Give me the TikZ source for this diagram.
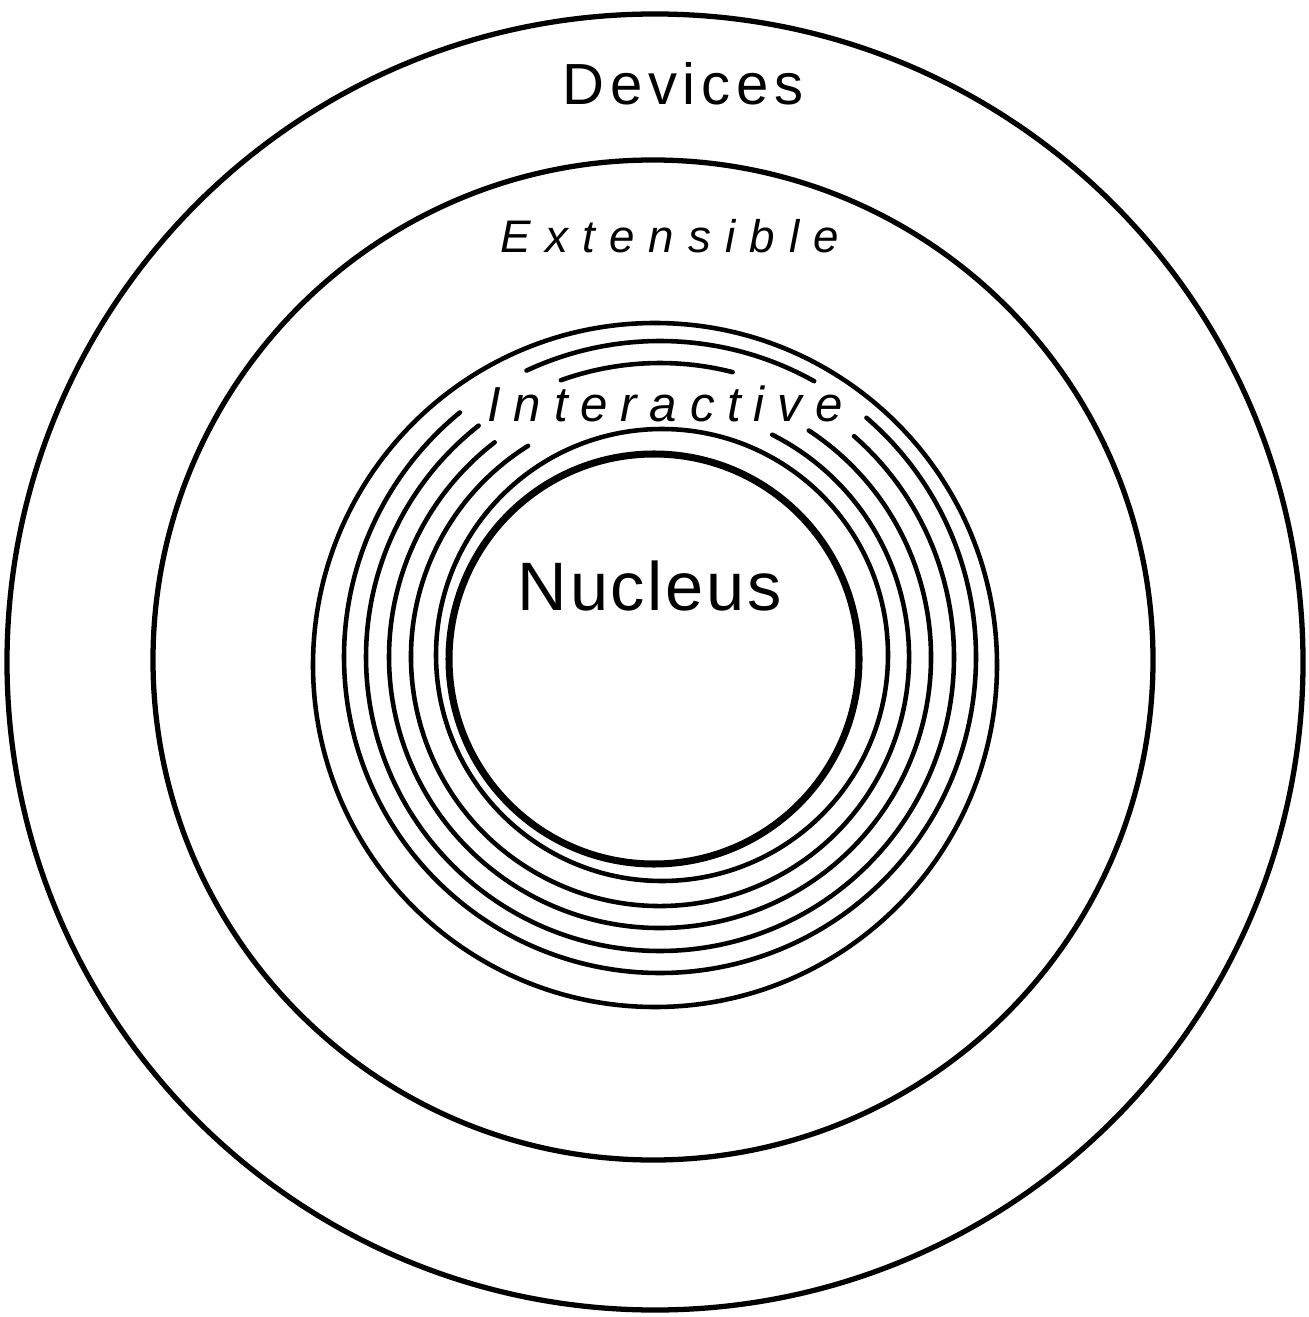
\documentclass[tikz,border=0pt]{standalone}
\usepackage{fontspec}
\newfontfamily\handfont{Liberation Sans}
\begin{document}
\begin{tikzpicture}[line cap=round, shell/.style={line width=1.5pt}, ring/.style={line width=1.3pt}, core/.style={line width=2pt}, word/.style={font=\handfont, inner sep=0pt, anchor=base}]
\useasboundingbox (0,0) rectangle (13.09,-13.17);
\coordinate (devicesc) at (6.55,-6.62);
\coordinate (extensiblec) at (6.53,-6.60);
\coordinate (interactivec) at (6.55,-6.65);
\coordinate (brokenc) at (6.60,-6.57);
\coordinate (innerc) at (6.62,-6.55);
\coordinate (nucleusc) at (6.54,-6.59);
\draw[shell] (devicesc) circle[radius=6.48];
\draw[shell] (extensiblec) circle[radius=5.00];
\draw[ring] (interactivec) circle[radius=3.42];
\draw[ring] ([shift={(49.2:3.16)}]brokenc) arc[start angle=49.2, end angle=-230.7, radius=3.16];
\draw[ring] ([shift={(60.8:3.16)}]brokenc) arc[start angle=60.8, end angle=115, radius=3.16];
\draw[ring] ([shift={(48.7:2.94)}]brokenc) arc[start angle=48.7, end angle=-231.9, radius=2.94];
\draw[ring] ([shift={(75.7:2.94)}]brokenc) arc[start angle=75.7, end angle=109.7, radius=2.94];
\draw[ring] ([shift={(56.7:2.71)}]brokenc) arc[start angle=56.7, end angle=-232.4, radius=2.71];
\draw[ring] ([shift={(63.2:2.49)}]brokenc) arc[start angle=63.2, end angle=-238, radius=2.49];
\draw[ring] (innerc) circle[radius=2.26];
\draw[core] (nucleusc) circle[radius=2.05];
\node[word, font=\handfont\fontsize{16.5}{17}\selectfont\addfontfeatures{LetterSpace=10}] (devices) at (6.83,-1.05) {Devices};
\node[word, font=\handfont\itshape\fontsize{13}{13}\selectfont\addfontfeatures{LetterSpace=31}] (extensible) at (6.70,-2.53) {Extensible};
\node[word, font=\handfont\itshape\fontsize{14}{14}\selectfont\addfontfeatures{LetterSpace=26}] (interactive) at (6.65,-4.22) {Interactive};
\node[word, font=\handfont\fontsize{19.5}{20}\selectfont\addfontfeatures{LetterSpace=4}] (nucleus) at (6.50,-6.10) {Nucleus};
\end{tikzpicture}
\end{document}
